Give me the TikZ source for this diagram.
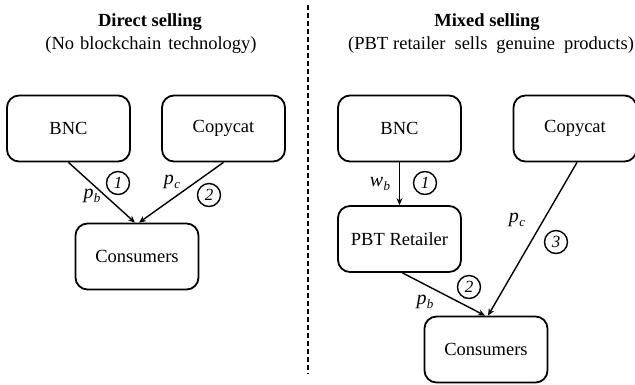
\documentclass[tikz,border=0pt]{standalone}
\usepackage{fontspec}
\setmainfont{Liberation Serif}
\usetikzlibrary{arrows.meta,calc}
% italic price symbol with a lowered subscript
\newcommand{\price}[2]{\textit{#1}\kern0.3pt\raisebox{-4.5pt}{\fontsize{13}{13}\selectfont\textit{#2}}}
\tikzset{
  box/.style={draw, line width=1.8pt, rounded corners=12pt, minimum width=123pt,
    minimum height=66pt, inner sep=0pt, font=\fontsize{18.5}{20}\selectfont},
  flow/.style={line width=1.4pt, -{Stealth[length=7pt,width=6pt]}},
  num/.style={draw, circle, line width=1.4pt, minimum size=23pt, inner sep=0pt,
    font=\fontsize{17}{17}\selectfont\itshape},
  lbl/.style={inner sep=0pt, font=\fontsize{20}{22}\selectfont},
  ttl/.style={inner sep=0pt, font=\fontsize{18.5}{20}\selectfont},
  divider/.style={line width=1.6pt, dash pattern=on 5pt off 3pt}
}
\begin{document}
\begin{tikzpicture}[x=1pt,y=-1pt]
\useasboundingbox (0,0) rectangle (635,384);

% divider between the two selling modes
\coordinate (dtop) at (308,5);
\coordinate (dbot) at (308,374);
\draw[divider] (dtop) -- (dbot);

% ---- direct selling ----
\node[ttl] (t1) at (150,22) {\textbf{Direct selling}};
\node[ttl] (s1) at (151,45) {(No\hspace{6pt}blockchain\hspace{7pt}technology)};

\node[box] (bnc1) at (68.5,128.5) {BNC};
\node[box] (cop1) at (223.5,128.5) {Copycat};
\node[box] (con1) at (137,256.5) {Consumers};

\coordinate (c1a) at ($(con1.north)+(-2,0)$);
\coordinate (c1b) at ($(con1.north)+(2,0)$);
\draw[flow] (bnc1.south) -- (c1a);
\draw[flow] (cop1.south) -- (c1b);

\node[lbl] (pb1) at (92,196) {\price{p}{b}};
\node[num] (n11) at (118,183) {1};
\node[lbl] (pc1) at (172,182) {\price{p}{c}};
\node[num] (n12) at (209,195) {2};

% ---- mixed selling ----
\node[ttl] (t2) at (487,22) {\textbf{Mixed selling}};
\node[ttl] (s2) at (491,45) {(PBT\hspace{5pt}retailer\hspace{9pt}sells\hspace{9pt}genuine\hspace{9pt}products)};

\node[box] (bnc2) at (399.5,128.5) {BNC};
\node[box] (cop2) at (575,128.5) {Copycat};
\node[box] (pbt) at (399.5,239) {PBT Retailer};
\node[box] (con2) at (486,349.5) {Consumers};

\coordinate (p2s) at ($(pbt.south)+(3,0)$);
\coordinate (c2a) at ($(con2.north)+(-1,0)$);
\coordinate (c2b) at ($(con2.north)+(2,0)$);
\coordinate (cp2s) at ($(cop2.south)+(2,0)$);
\draw[flow] (bnc2.south) -- (pbt.north);
\draw[flow] (p2s) -- (c2a);
\draw[flow] (cp2s) -- (c2b);

\node[lbl] (wb2) at (380,184) {\price{w}{b}};
\node[num] (n21) at (425,183) {1};
\node[lbl] (pc2) at (517,220) {\price{p}{c}};
\node[num] (n23) at (556,242) {3};
\node[num] (n22) at (469,287) {2};
\node[lbl] (pb2) at (425,302) {\price{p}{b}};
\end{tikzpicture}
\end{document}
